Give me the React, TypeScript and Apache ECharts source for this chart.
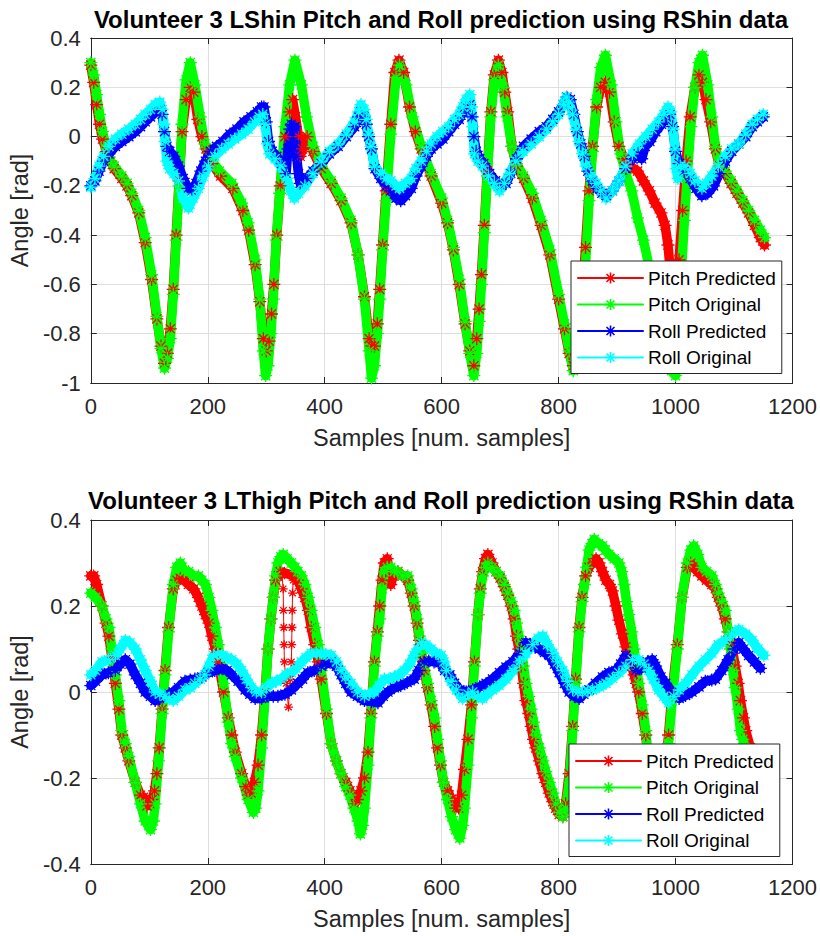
import React, { useEffect, useRef } from "react";
import * as echarts from "echarts";

// ---------- data (sample index, angle in rad) ----------
const TITLE_TOP = "Volunteer 3 LShin Pitch and Roll prediction using RShin data";
const TITLE_BOTTOM = "Volunteer 3 LThigh Pitch and Roll prediction using RShin data";
const X_NAME = "Samples [num. samples]";
const Y_NAME = "Angle [rad]";
const SERIES_NAMES = ["Pitch Predicted", "Pitch Original", "Roll Predicted", "Roll Original"];
const SERIES_COLORS = ["#ff0000", "#00ff00", "#0000ff", "#00ffff"];
const X_RANGE = [0, 1200, 200];
const TOP_Y_RANGE = [-1, 0.4, 0.2];
const BOTTOM_Y_RANGE = [-0.4, 0.4, 0.2];

const shinPitchOrig = [[0,0.30],[5,0.25],[10,0.17],[15,0.09],[20,0.02],[27,-0.05],[34,-0.10],[40,-0.12],[53,-0.16],[62,-0.19],[70,-0.23],[82,-0.30],[93,-0.41],[104,-0.56],[113,-0.73],[120,-0.86],[126,-0.94],[131,-0.90],[136,-0.82],[141,-0.64],[146,-0.42],[151,-0.20],[156,0.05],[163,0.23],[170,0.30],[178,0.21],[187,0.08],[195,-0.03],[205,-0.09],[220,-0.14],[241,-0.19],[258,-0.27],[269,-0.35],[281,-0.50],[289,-0.66],[295,-0.87],[299,-0.97],[303,-0.93],[308,-0.80],[312,-0.66],[317,-0.42],[323,-0.23],[332,0.04],[340,0.21],[349,0.31],[360,0.21],[369,0.08],[380,-0.04],[394,-0.12],[411,-0.18],[428,-0.25],[445,-0.34],[457,-0.48],[468,-0.66],[476,-0.87],[480,-0.98],[485,-0.93],[490,-0.80],[494,-0.66],[499,-0.46],[505,-0.26],[513,0.01],[522,0.24],[528,0.29],[539,0.21],[550,0.08],[565,-0.04],[582,-0.15],[600,-0.25],[610,-0.34],[620,-0.45],[630,-0.58],[640,-0.75],[648,-0.88],[655,-0.97],[660,-0.88],[664,-0.75],[668,-0.60],[673,-0.39],[678,-0.16],[684,0.08],[690,0.23],[697,0.29],[705,0.20],[712,0.08],[720,-0.04],[728,-0.11],[740,-0.16],[755,-0.23],[770,-0.34],[785,-0.46],[800,-0.64],[810,-0.76],[818,-0.87],[825,-0.95],[832,-0.90],[840,-0.72],[846,-0.52],[852,-0.26],[858,-0.06],[865,0.15],[872,0.28],[880,0.33],[890,0.21],[898,0.06],[906,-0.07],[915,-0.15],[925,-0.22],[935,-0.33],[945,-0.42],[955,-0.53],[965,-0.66],[975,-0.78],[985,-0.88],[993,-0.95],[1000,-0.97],[1005,-0.85],[1010,-0.55],[1015,-0.34],[1020,-0.16],[1026,0.04],[1033,0.20],[1040,0.30],[1046,0.33],[1055,0.21],[1062,0.08],[1068,-0.04],[1075,-0.11],[1085,-0.14],[1095,-0.18],[1105,-0.22],[1115,-0.26],[1125,-0.30],[1135,-0.34],[1145,-0.38],[1152,-0.41]];

const shinPitchPred = [[0,0.29],[5,0.22],[10,0.13],[15,0.05],[20,-0.01],[27,-0.06],[34,-0.10],[40,-0.13],[53,-0.17],[62,-0.20],[70,-0.24],[82,-0.31],[93,-0.43],[104,-0.58],[113,-0.74],[120,-0.85],[126,-0.92],[131,-0.88],[136,-0.78],[141,-0.62],[146,-0.40],[151,-0.18],[156,0.02],[163,0.15],[170,0.20],[176,0.18],[183,0.07],[190,0.0],[197,-0.05],[207,-0.11],[222,-0.16],[243,-0.21],[260,-0.30],[270,-0.38],[281,-0.52],[289,-0.67],[295,-0.82],[300,-0.87],[305,-0.83],[309,-0.72],[313,-0.60],[318,-0.40],[324,-0.20],[332,0.0],[340,0.10],[345,0.15],[350,0.08],[355,0.0],[358,-0.08],[362,-0.05],[370,0.0],[380,-0.06],[394,-0.13],[411,-0.19],[428,-0.26],[445,-0.35],[457,-0.48],[468,-0.65],[476,-0.82],[480,-0.85],[485,-0.85],[490,-0.76],[494,-0.62],[499,-0.44],[505,-0.22],[513,0.05],[520,0.26],[527,0.31],[535,0.26],[545,0.12],[555,0.02],[565,-0.05],[582,-0.16],[600,-0.27],[610,-0.35],[620,-0.46],[630,-0.60],[640,-0.76],[648,-0.87],[655,-0.93],[660,-0.82],[664,-0.70],[668,-0.56],[673,-0.36],[678,-0.14],[684,0.10],[690,0.25],[697,0.31],[703,0.26],[708,0.18],[713,0.10],[720,-0.04],[728,-0.12],[740,-0.17],[755,-0.25],[770,-0.36],[785,-0.48],[800,-0.66],[810,-0.78],[818,-0.88],[825,-0.93],[832,-0.87],[840,-0.68],[846,-0.45],[852,-0.22],[858,-0.04],[865,0.12],[872,0.20],[880,0.22],[887,0.18],[895,0.06],[903,-0.04],[912,-0.09],[922,-0.12],[935,-0.14],[945,-0.18],[955,-0.22],[965,-0.27],[975,-0.31],[982,-0.36],[987,-0.44],[993,-0.60],[998,-0.75],[1002,-0.60],[1006,-0.50],[1012,-0.30],[1018,-0.10],[1025,0.08],[1033,0.20],[1040,0.25],[1046,0.22],[1052,0.15],[1060,0.06],[1068,-0.05],[1075,-0.12],[1085,-0.15],[1095,-0.19],[1105,-0.23],[1115,-0.27],[1125,-0.31],[1135,-0.36],[1145,-0.41],[1152,-0.44]];

const shinRollPred = [[0,-0.20],[7,-0.18],[14,-0.14],[22,-0.10],[31,-0.07],[42,-0.04],[53,-0.02],[65,0.0],[76,0.02],[85,0.04],[93,0.06],[102,0.08],[110,0.10],[118,0.11],[122,0.09],[126,0.02],[130,-0.04],[135,-0.06],[142,-0.08],[150,-0.12],[158,-0.17],[166,-0.21],[173,-0.22],[180,-0.19],[188,-0.14],[196,-0.10],[205,-0.06],[215,-0.04],[226,-0.02],[238,0.01],[250,0.03],[262,0.06],[274,0.08],[285,0.10],[292,0.12],[296,0.12],[300,0.06],[304,-0.02],[310,-0.06],[318,-0.08],[326,-0.11],[334,-0.15],[337,-0.05],[340,0.03],[343,0.05],[346,-0.02],[349,0.04],[352,-0.08],[355,-0.15],[358,-0.19],[362,-0.18],[370,-0.17],[380,-0.14],[394,-0.11],[408,-0.07],[423,-0.04],[437,0.0],[451,0.04],[458,0.08],[462,0.10],[467,0.08],[471,0.05],[475,0.0],[480,-0.05],[486,-0.13],[496,-0.17],[505,-0.20],[513,-0.22],[522,-0.25],[530,-0.26],[538,-0.24],[548,-0.21],[556,-0.16],[565,-0.12],[574,-0.08],[582,-0.05],[592,-0.03],[602,-0.01],[612,0.02],[622,0.05],[630,0.07],[636,0.10],[642,0.12],[648,0.13],[652,0.08],[655,0.0],[659,-0.06],[665,-0.09],[672,-0.11],[682,-0.15],[692,-0.18],[702,-0.20],[710,-0.19],[718,-0.15],[728,-0.09],[740,-0.04],[753,-0.01],[767,0.02],[779,0.04],[790,0.07],[800,0.10],[808,0.13],[814,0.16],[820,0.15],[826,0.09],[832,0.02],[838,-0.03],[844,-0.08],[850,-0.14],[858,-0.18],[866,-0.21],[874,-0.23],[882,-0.24],[892,-0.22],[903,-0.18],[915,-0.13],[926,-0.09],[936,-0.07],[942,-0.09],[948,-0.04],[956,-0.02],[966,0.02],[976,0.05],[984,0.08],[990,0.09],[995,0.04],[1000,-0.06],[1006,-0.11],[1015,-0.14],[1025,-0.17],[1035,-0.21],[1045,-0.24],[1055,-0.23],[1065,-0.20],[1075,-0.15],[1085,-0.10],[1096,-0.06],[1108,-0.03],[1120,0.0],[1131,0.04],[1140,0.06],[1150,0.08]];

const shinRollOrig = [[0,-0.205],[7,-0.17],[14,-0.12],[22,-0.08],[31,-0.04],[42,-0.01],[53,0.01],[65,0.03],[76,0.05],[85,0.07],[93,0.09],[102,0.11],[110,0.13],[118,0.14],[122,0.11],[125,0.05],[127,-0.02],[130,-0.10],[135,-0.13],[142,-0.15],[150,-0.18],[158,-0.25],[167,-0.29],[175,-0.25],[184,-0.21],[192,-0.16],[201,-0.12],[212,-0.08],[224,-0.05],[235,-0.03],[246,-0.01],[258,0.01],[269,0.03],[280,0.06],[288,0.08],[294,0.09],[298,0.05],[302,-0.03],[306,-0.07],[315,-0.09],[325,-0.12],[335,-0.17],[342,-0.22],[348,-0.25],[355,-0.23],[366,-0.20],[380,-0.15],[394,-0.10],[408,-0.06],[423,-0.03],[437,0.01],[451,0.06],[458,0.10],[462,0.13],[467,0.11],[471,0.07],[475,0.01],[479,-0.04],[485,-0.12],[496,-0.15],[505,-0.17],[513,-0.18],[522,-0.20],[528,-0.21],[538,-0.19],[548,-0.17],[556,-0.13],[565,-0.10],[574,-0.06],[582,-0.03],[592,0.0],[602,0.02],[612,0.04],[622,0.07],[630,0.09],[636,0.12],[642,0.15],[648,0.17],[651,0.12],[653,0.04],[656,-0.07],[662,-0.10],[670,-0.12],[680,-0.16],[690,-0.19],[699,-0.22],[707,-0.19],[716,-0.15],[727,-0.10],[739,-0.06],[753,-0.03],[767,0.0],[779,0.03],[790,0.06],[800,0.09],[808,0.13],[813,0.16],[818,0.14],[824,0.09],[830,0.03],[835,-0.02],[841,-0.07],[847,-0.12],[855,-0.16],[864,-0.19],[872,-0.22],[881,-0.25],[892,-0.22],[903,-0.18],[915,-0.12],[926,-0.07],[938,-0.03],[949,0.0],[960,0.03],[971,0.06],[980,0.09],[987,0.12],[992,0.10],[996,0.03],[999,-0.05],[1001,-0.13],[1004,-0.17],[1008,-0.12],[1016,-0.12],[1025,-0.15],[1033,-0.18],[1045,-0.21],[1053,-0.19],[1062,-0.16],[1073,-0.12],[1085,-0.08],[1096,-0.05],[1108,-0.03],[1120,0.01],[1131,0.05],[1140,0.07],[1150,0.09]];

const thighPitchOrig = [[0,0.23],[8,0.22],[19,0.20],[26,0.17],[31,0.15],[36,0.10],[42,0.04],[48,-0.02],[53,-0.09],[59,-0.12],[65,-0.15],[76,-0.21],[85,-0.26],[93,-0.30],[102,-0.32],[107,-0.30],[110,-0.26],[116,-0.16],[122,-0.05],[127,0.04],[133,0.14],[141,0.25],[147,0.29],[153,0.30],[160,0.28],[167,0.28],[176,0.27],[184,0.27],[190,0.26],[196,0.25],[202,0.22],[207,0.19],[213,0.15],[218,0.11],[227,0.02],[235,-0.07],[241,-0.12],[247,-0.15],[258,-0.20],[269,-0.25],[278,-0.28],[282,-0.27],[286,-0.23],[292,-0.13],[298,-0.01],[303,0.10],[308,0.17],[312,0.22],[316,0.27],[320,0.30],[325,0.315],[329,0.32],[336,0.31],[343,0.30],[349,0.29],[354,0.28],[360,0.27],[366,0.25],[372,0.22],[377,0.19],[383,0.15],[389,0.11],[394,0.05],[403,-0.04],[411,-0.12],[420,-0.16],[428,-0.19],[436,-0.22],[443,-0.24],[450,-0.27],[457,-0.30],[461,-0.33],[465,-0.31],[468,-0.27],[474,-0.17],[479,-0.06],[485,0.06],[490,0.13],[494,0.17],[498,0.24],[502,0.28],[507,0.29],[513,0.29],[519,0.28],[525,0.28],[533,0.27],[542,0.27],[548,0.24],[553,0.21],[558,0.17],[562,0.13],[566,0.09],[570,0.06],[576,0.02],[582,-0.02],[588,-0.06],[593,-0.11],[598,-0.16],[603,-0.21],[610,-0.25],[617,-0.29],[624,-0.32],[631,-0.34],[636,-0.31],[639,-0.27],[645,-0.17],[651,-0.06],[656,0.06],[662,0.18],[666,0.23],[670,0.27],[675,0.29],[679,0.30],[686,0.29],[693,0.28],[700,0.27],[707,0.25],[713,0.23],[719,0.21],[724,0.19],[728,0.16],[732,0.13],[736,0.10],[740,0.06],[744,0.02],[749,-0.01],[753,-0.04],[757,-0.07],[761,-0.10],[767,-0.13],[773,-0.16],[778,-0.185],[784,-0.21],[790,-0.235],[795,-0.26],[801,-0.28],[807,-0.29],[812,-0.27],[818,-0.21],[824,-0.09],[829,0.02],[835,0.14],[840,0.21],[844,0.25],[848,0.29],[852,0.33],[857,0.345],[861,0.355],[868,0.345],[875,0.34],[880,0.33],[886,0.32],[895,0.31],[903,0.30],[908,0.28],[912,0.25],[916,0.21],[920,0.18],[925,0.14],[929,0.10],[933,0.06],[937,0.02],[943,-0.03],[949,-0.09],[954,-0.17],[960,-0.22],[966,-0.26],[972,-0.29],[978,-0.28],[983,-0.20],[988,-0.12],[994,-0.02],[1003,0.10],[1011,0.22],[1020,0.30],[1026,0.33],[1031,0.34],[1038,0.32],[1045,0.29],[1053,0.28],[1062,0.27],[1068,0.25],[1073,0.23],[1079,0.21],[1085,0.19],[1090,0.14],[1094,0.10],[1098,0.05],[1102,0.01],[1107,-0.04],[1111,-0.09],[1115,-0.11],[1119,-0.13],[1125,-0.17],[1132,-0.20],[1140,-0.23],[1150,-0.26]];

const thighPitchPred = [[0,0.27],[5,0.27],[10,0.25],[19,0.20],[26,0.16],[31,0.13],[36,0.08],[42,0.02],[48,-0.04],[53,-0.10],[59,-0.13],[65,-0.16],[76,-0.21],[85,-0.24],[90,-0.245],[96,-0.265],[101,-0.26],[105,-0.25],[109,-0.23],[113,-0.19],[117,-0.13],[122,-0.04],[127,0.05],[133,0.15],[141,0.24],[147,0.26],[153,0.265],[160,0.26],[167,0.25],[176,0.24],[184,0.22],[190,0.20],[196,0.18],[202,0.16],[207,0.13],[213,0.10],[218,0.07],[227,0.0],[235,-0.06],[241,-0.10],[247,-0.14],[258,-0.19],[265,-0.22],[269,-0.24],[274,-0.235],[280,-0.21],[286,-0.17],[292,-0.10],[298,0.0],[303,0.10],[308,0.17],[312,0.22],[316,0.26],[324,0.28],[348,0.27],[354,0.26],[360,0.24],[366,0.22],[372,0.19],[377,0.15],[383,0.11],[389,0.07],[394,0.03],[403,-0.05],[411,-0.12],[420,-0.16],[428,-0.19],[436,-0.21],[443,-0.23],[451,-0.26],[456,-0.25],[462,-0.23],[468,-0.20],[474,-0.14],[479,-0.05],[485,0.07],[490,0.14],[494,0.20],[498,0.26],[502,0.30],[507,0.31],[510,0.28],[513,0.25],[517,0.27],[525,0.28],[533,0.27],[542,0.26],[548,0.23],[553,0.20],[558,0.16],[562,0.12],[566,0.08],[570,0.05],[576,0.01],[582,-0.03],[588,-0.08],[593,-0.13],[598,-0.17],[603,-0.21],[610,-0.23],[617,-0.25],[624,-0.27],[629,-0.27],[634,-0.24],[639,-0.18],[645,-0.11],[651,-0.03],[656,0.07],[662,0.18],[666,0.24],[670,0.28],[675,0.31],[679,0.32],[686,0.30],[693,0.28],[700,0.265],[707,0.245],[713,0.225],[719,0.20],[724,0.17],[728,0.13],[732,0.10],[736,0.06],[740,0.02],[744,-0.02],[749,-0.05],[753,-0.08],[757,-0.11],[761,-0.13],[767,-0.16],[773,-0.19],[778,-0.21],[784,-0.235],[790,-0.255],[795,-0.27],[801,-0.285],[807,-0.29],[812,-0.26],[818,-0.19],[824,-0.08],[829,0.03],[835,0.15],[840,0.22],[846,0.27],[852,0.29],[858,0.30],[864,0.31],[869,0.30],[875,0.28],[881,0.26],[887,0.25],[892,0.235],[898,0.20],[903,0.167],[909,0.135],[915,0.105],[920,0.08],[925,0.06],[929,0.04],[933,0.02],[937,0.0],[943,-0.05],[949,-0.10],[954,-0.17],[960,-0.22],[966,-0.26],[972,-0.28],[978,-0.26],[983,-0.18],[988,-0.10],[994,0.0],[1003,0.11],[1011,0.22],[1020,0.29],[1026,0.30],[1031,0.29],[1038,0.28],[1045,0.27],[1053,0.26],[1062,0.25],[1068,0.24],[1073,0.22],[1079,0.20],[1085,0.17],[1090,0.14],[1096,0.11],[1102,0.06],[1107,0.02],[1111,-0.02],[1116,-0.06],[1120,-0.09],[1128,-0.13],[1135,-0.17],[1142,-0.20],[1150,-0.23]];

// jittery stretch of the predicted thigh pitch (drawn thin)
const thighPitchPredJitter = [[324,0.28],[327,0.27],[329,0.24],[329.5,0.19],[330,0.15],[330.5,0.11],[331,0.07],[334,0.02],[338,-0.035],[341,0.03],[343,0.07],[343.5,0.11],[344,0.15],[344.5,0.19],[345,0.23],[346,0.26],[348,0.27]];

const thighRollPred = [[0,0.015],[8,0.025],[19,0.04],[30,0.045],[42,0.05],[50,0.065],[59,0.075],[67,0.065],[76,0.04],[85,0.02],[93,0.0],[102,-0.01],[110,-0.02],[118,-0.015],[127,-0.01],[134,-0.005],[141,0.0],[150,0.01],[161,0.025],[170,0.028],[178,0.03],[190,0.035],[201,0.045],[212,0.05],[224,0.055],[233,0.05],[241,0.04],[252,0.025],[264,0.005],[272,-0.005],[281,-0.015],[292,-0.015],[303,-0.01],[312,-0.01],[320,-0.01],[332,-0.005],[343,0.005],[354,0.02],[362,0.03],[371,0.045],[382,0.05],[394,0.06],[402,0.065],[411,0.07],[420,0.06],[428,0.04],[436,0.02],[445,0.0],[456,-0.01],[468,-0.02],[480,-0.022],[491,-0.025],[500,-0.01],[508,0.0],[519,0.01],[530,0.015],[541,0.022],[553,0.03],[561,0.05],[570,0.07],[578,0.072],[587,0.07],[597,0.068],[605,0.05],[614,0.04],[622,0.02],[631,0.005],[642,0.0],[653,0.005],[665,0.012],[676,0.02],[687,0.03],[699,0.045],[710,0.058],[722,0.07],[733,0.09],[744,0.115],[752,0.11],[760,0.105],[767,0.10],[776,0.092],[784,0.085],[793,0.065],[801,0.045],[810,0.02],[818,0.0],[827,-0.01],[835,-0.015],[843,-0.005],[852,0.005],[863,0.02],[875,0.035],[886,0.045],[898,0.05],[906,0.065],[915,0.085],[923,0.07],[932,0.05],[942,0.055],[952,0.07],[960,0.075],[966,0.06],[975,0.035],[983,0.02],[994,0.0],[1006,-0.015],[1017,-0.008],[1028,0.0],[1040,0.012],[1051,0.025],[1062,0.028],[1068,0.03],[1079,0.05],[1090,0.075],[1100,0.10],[1108,0.115],[1116,0.10],[1125,0.085],[1135,0.07],[1145,0.055]];

const thighRollOrig = [[0,0.04],[8,0.05],[19,0.07],[30,0.075],[42,0.085],[50,0.10],[59,0.12],[67,0.115],[76,0.10],[85,0.075],[93,0.05],[102,0.025],[110,0.0],[118,-0.005],[127,-0.01],[134,-0.015],[141,-0.02],[150,-0.01],[161,0.005],[170,0.01],[178,0.02],[187,0.03],[195,0.04],[202,0.06],[210,0.085],[217,0.088],[224,0.085],[233,0.08],[241,0.075],[250,0.065],[258,0.05],[266,0.03],[275,0.01],[283,0.0],[292,0.0],[300,0.01],[309,0.02],[317,0.025],[326,0.03],[334,0.04],[343,0.045],[351,0.055],[360,0.07],[368,0.08],[377,0.09],[386,0.09],[394,0.09],[402,0.088],[411,0.085],[420,0.07],[428,0.05],[436,0.035],[445,0.02],[456,0.0],[468,-0.01],[476,-0.005],[485,0.0],[493,0.015],[502,0.03],[510,0.03],[519,0.035],[527,0.04],[536,0.05],[545,0.065],[553,0.085],[559,0.10],[565,0.115],[573,0.11],[582,0.10],[590,0.09],[599,0.085],[604,0.07],[608,0.05],[616,0.025],[625,0.005],[636,-0.015],[645,-0.005],[653,0.0],[662,-0.01],[670,-0.015],[678,-0.005],[687,0.005],[698,0.015],[710,0.03],[722,0.05],[733,0.07],[744,0.09],[756,0.11],[765,0.125],[773,0.13],[781,0.11],[790,0.09],[798,0.07],[807,0.05],[815,0.025],[824,0.005],[833,0.0],[841,0.0],[850,0.002],[858,0.005],[870,0.012],[881,0.02],[892,0.032],[903,0.045],[915,0.06],[926,0.075],[937,0.075],[946,0.065],[954,0.05],[962,0.03],[971,0.005],[980,-0.01],[988,-0.025],[997,-0.01],[1006,0.005],[1017,0.02],[1028,0.04],[1040,0.06],[1051,0.075],[1062,0.09],[1073,0.11],[1085,0.12],[1096,0.135],[1108,0.145],[1120,0.135],[1131,0.12],[1141,0.10],[1151,0.085]];

// ---------- styling ----------
const FONT = '"Liberation Sans", Arial, Helvetica, sans-serif';
const AXIS_COLOR = "#262626";
const GRID_COLOR = "#dfdfdf";
const STAR = "path://M0,5L10,5M5,0L5,10M1.46,1.46L8.54,8.54M8.54,1.46L1.46,8.54";

const GRIDS = [
  { left: 90, top: 38, width: 704, height: 345 },
  { left: 90, top: 520, width: 704, height: 344 },
];

function fmtY(v: number) {
  const r = Math.round(v * 10) / 10;
  return String(r === 0 ? 0 : r);
}
function fmtX(v: number) {
  return String(Math.round(v));
}

function mainX(gi: number) {
  return {
    gridIndex: gi, type: "value", min: X_RANGE[0], max: X_RANGE[1], interval: X_RANGE[2], position: "bottom",
    axisLine: { show: true, onZero: false, lineStyle: { color: AXIS_COLOR, width: 1 } },
    axisTick: { show: true, inside: true, length: 6, lineStyle: { color: AXIS_COLOR } },
    axisLabel: { show: true, margin: 12, fontSize: 22, color: AXIS_COLOR, fontFamily: FONT, formatter: fmtX },
    splitLine: { show: true, lineStyle: { color: GRID_COLOR, width: 1 } },
    name: X_NAME, nameLocation: "middle", nameGap: 43,
    nameTextStyle: { fontSize: 23.5, color: AXIS_COLOR, fontFamily: FONT },
  };
}
function boxX(gi: number) {
  return {
    gridIndex: gi, type: "value", min: X_RANGE[0], max: X_RANGE[1], interval: X_RANGE[2], position: "top",
    axisLine: { show: true, onZero: false, lineStyle: { color: AXIS_COLOR, width: 1 } },
    axisTick: { show: true, inside: true, length: 6, lineStyle: { color: AXIS_COLOR } },
    axisLabel: { show: false }, splitLine: { show: false },
  };
}
function mainY(gi: number, r: number[]) {
  return {
    gridIndex: gi, type: "value", min: r[0], max: r[1], interval: r[2], position: "left",
    axisLine: { show: true, onZero: false, lineStyle: { color: AXIS_COLOR, width: 1 } },
    axisTick: { show: true, inside: true, length: 6, lineStyle: { color: AXIS_COLOR } },
    axisLabel: { show: true, margin: 10, fontSize: 22, color: AXIS_COLOR, fontFamily: FONT, formatter: fmtY },
    splitLine: { show: true, lineStyle: { color: GRID_COLOR, width: 1 } },
    name: Y_NAME, nameLocation: "middle", nameGap: 55, nameRotate: 90,
    nameTextStyle: { fontSize: 23.5, color: AXIS_COLOR, fontFamily: FONT },
  };
}
function boxY(gi: number, r: number[]) {
  return {
    gridIndex: gi, type: "value", min: r[0], max: r[1], interval: r[2], position: "right",
    axisLine: { show: true, onZero: false, lineStyle: { color: AXIS_COLOR, width: 1 } },
    axisTick: { show: true, inside: true, length: 6, lineStyle: { color: AXIS_COLOR } },
    axisLabel: { show: false }, splitLine: { show: false },
  };
}

function line(name: string, data: number[][], color: string, ai: number, width = 9.5, size = 13) {
  return {
    type: "line", name, data, xAxisIndex: ai, yAxisIndex: ai,
    symbol: STAR, symbolSize: size, symbolKeepAspect: true, showAllSymbol: true,
    lineStyle: { color, width, cap: "round", join: "round" },
    itemStyle: { color, borderColor: color, borderWidth: 1.3 },
    emphasis: { disabled: true }, silent: true,
  };
}

function legend(left: number, top: number) {
  return {
    orient: "vertical", left, top, padding: [7, 6, 6, 6], itemGap: 6.5,
    itemWidth: 65, itemHeight: 14, borderColor: AXIS_COLOR, borderWidth: 1, backgroundColor: "#ffffff",
    lineStyle: { width: 2 }, itemStyle: { borderWidth: 1.6 },
    textStyle: { fontSize: 19, lineHeight: 20, color: "#000", fontFamily: FONT },
    data: SERIES_NAMES, selectedMode: false,
  };
}

export default function App() {
  const ref = useRef<HTMLDivElement>(null);
  useEffect(() => {
    if (!ref.current) return;
    const chart = echarts.init(ref.current, undefined, { renderer: "svg" });
    const [cR, cG, cB, cC] = SERIES_COLORS;
    const [nR, nG, nB, nC] = SERIES_NAMES;
    chart.setOption({
      animation: false,
      backgroundColor: "#ffffff",
      title: [
        { text: TITLE_TOP, left: 441, top: 7, textAlign: "center", padding: 0,
          textStyle: { fontSize: 24, fontWeight: "bold", color: "#000", fontFamily: FONT } },
        { text: TITLE_BOTTOM, left: 441, top: 488, textAlign: "center", padding: 0,
          textStyle: { fontSize: 24, fontWeight: "bold", color: "#000", fontFamily: FONT } },
      ],
      grid: GRIDS,
      xAxis: [mainX(0), mainX(1), boxX(0), boxX(1)],
      yAxis: [mainY(0, TOP_Y_RANGE), mainY(1, BOTTOM_Y_RANGE), boxY(0, TOP_Y_RANGE), boxY(1, BOTTOM_Y_RANGE)],
      legend: [legend(571, 261), legend(569, 744)],
      series: [
        line(nR, shinPitchPred, cR, 0),
        line(nG, shinPitchOrig, cG, 0),
        line(nB, shinRollPred, cB, 0),
        line(nC, shinRollOrig, cC, 0),
        line(nR, thighPitchPred, cR, 1),
        line(nR, thighPitchPredJitter, cR, 1, 1, 9),
        line(nG, thighPitchOrig, cG, 1),
        line(nB, thighRollPred, cB, 1),
        line(nC, thighRollOrig, cC, 1),
      ],
    });
    return () => chart.dispose();
  }, []);
  return (
    <div
      ref={ref}
      style={{ position: "fixed", left: 0, top: 0, width: 820, height: 936, background: "#fff" }}
    />
  );
}
